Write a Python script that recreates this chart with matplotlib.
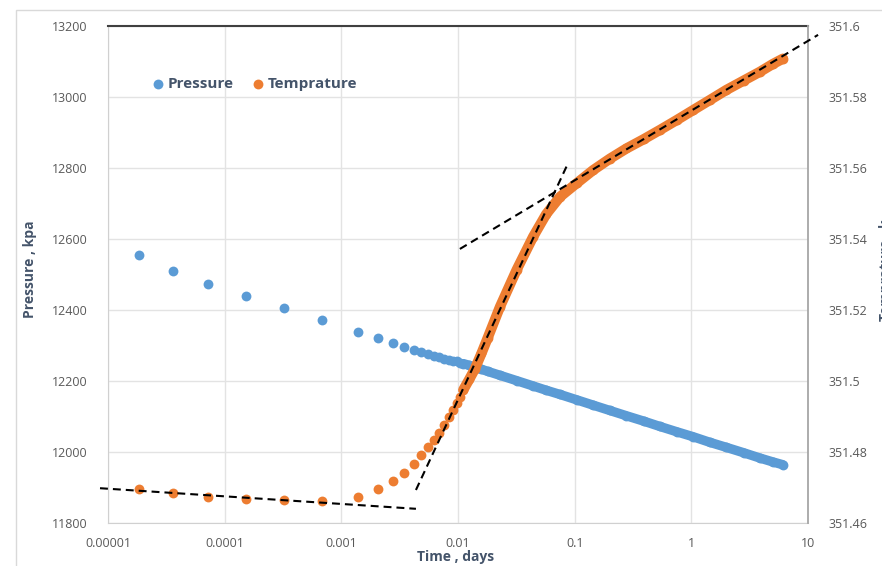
import matplotlib
matplotlib.use("Agg")
import matplotlib.pyplot as plt
from matplotlib.patches import Rectangle
from matplotlib.ticker import NullLocator

plt.rcParams['font.family'] = ['Open Sans', 'DejaVu Sans']

# -------------------------- data --------------------------
time_days = [1.85e-5, 3.6e-5, 7.2e-5, 1.52e-4, 3.2e-4, 6.8e-4,
             0.00139, 0.00208, 0.00278, 0.00347, 0.00417, 0.00486, 0.00556,
             0.00625, 0.00694, 0.00764, 0.00833, 0.00903, 0.00972, 0.01042,
             0.0111, 0.0125, 0.0139, 0.0159, 0.018, 0.0229, 0.0318, 0.044,
             0.057, 0.075, 0.104, 0.144, 0.2, 0.278, 0.39, 0.537, 0.75,
             1.036, 1.45, 2.0, 2.8, 3.87, 5.0, 6.1]

pressure = [12555, 12510, 12473, 12439, 12406, 12371,
            12339, 12320, 12306, 12295, 12287, 12281, 12276,
            12271, 12267, 12263, 12260, 12257, 12255, 12252,
            12249, 12244, 12239, 12233, 12227, 12216, 12201, 12186,
            12174, 12162, 12147, 12132, 12117, 12102, 12087, 12072, 12057,
            12043, 12027, 12013, 11998, 11983, 11972, 11964]

temperature = [351.4696, 351.4684, 351.4674, 351.4669, 351.4665, 351.4663,
               351.4672, 351.4695, 351.4718, 351.4742, 351.4766, 351.4791, 351.4813,
               351.4834, 351.4854, 351.4876, 351.4898, 351.4918, 351.4937, 351.4956,
               351.4975, 351.5005, 351.5033, 351.5078, 351.5122, 351.5209, 351.5313, 351.5406,
               351.5470, 351.5519, 351.5557, 351.5594, 351.5626, 351.5655, 351.5681, 351.5707, 351.5735,
               351.5763, 351.5792, 351.5820, 351.5846, 351.5871, 351.5893, 351.5908]

# points from here on overlap into a continuous band
dense_start = 20

# straight-line fits drawn on the temperature curve (time, temperature)
fit_early_t = [8.54e-6, 4.36e-3]
fit_early_T = [351.4698, 351.4640]
fit_mid_t = [4.36e-3, 0.0851]
fit_mid_T = [351.4693, 351.5604]
fit_late_t = [0.01038, 12.2]
fit_late_T = [351.5372, 351.5975]

x_ticks = [1e-5, 1e-4, 1e-3, 1e-2, 1e-1, 1, 10]
x_ticklabels = ['0.00001', '0.0001', '0.001', '0.01', '0.1', '1', '10']
p_ticks = [11800, 12000, 12200, 12400, 12600, 12800, 13000, 13200]
t_ticks = [351.46, 351.48, 351.5, 351.52, 351.54, 351.56, 351.58, 351.6]
t_ticklabels = ['351.46', '351.48', '351.5', '351.52', '351.54', '351.56', '351.58', '351.6']

# -------------------------- styles --------------------------
blue = '#5B9BD5'
orange = '#ED7D31'
tick_col = '#595959'
label_col = '#44546A'
grid_col = '#E3E3E3'
dot_s = 50

fig = plt.figure(figsize=(8.82, 5.66), dpi=100)
fig.patches.append(Rectangle((16 / 882, -0.01), 1.0, (566 - 10) / 566 + 0.01,
                             transform=fig.transFigure, fill=False,
                             edgecolor='#D9D9D9', linewidth=1.0))

ax = fig.add_axes([108 / 882, 43 / 566, 700 / 882, 497 / 566])
ax2 = ax.twinx()

# pressure
ax.scatter(time_days, pressure, s=dot_s, color=blue, linewidths=0, zorder=3)
ax.plot(time_days[dense_start:], pressure[dense_start:], color=blue,
        linewidth=6.8, solid_capstyle='round', zorder=3)

# temperature
ax2.scatter(time_days, temperature, s=dot_s, color=orange, linewidths=0, zorder=3)
ax2.plot(time_days[dense_start:], temperature[dense_start:], color=orange,
         linewidth=7.4, solid_capstyle='round', zorder=3)

# dashed fit lines
for tt, TT in [(fit_early_t, fit_early_T), (fit_mid_t, fit_mid_T), (fit_late_t, fit_late_T)]:
    ax2.plot(tt, TT, color='black', linewidth=1.5, linestyle=(0, (3.8, 2.4)),
             clip_on=False, zorder=5)

# axes
ax.set_xscale('log')
ax.set_xlim(1e-5, 10)
ax.set_ylim(11800, 13200)
ax2.set_ylim(351.46, 351.6)

ax.set_xticks(x_ticks, x_ticklabels)
ax.xaxis.set_minor_locator(NullLocator())
ax.set_yticks(p_ticks)
ax2.set_yticks(t_ticks, t_ticklabels)

ax.grid(True, color=grid_col, linewidth=1.0, zorder=0)
ax.set_axisbelow(True)

for a in (ax, ax2):
    a.tick_params(axis='both', length=0, labelsize=9, labelcolor=tick_col)
    for s in a.spines.values():
        s.set_visible(False)
ax.tick_params(axis='y', pad=15)
ax.tick_params(axis='x', pad=10)
ax2.tick_params(axis='y', pad=15)

ax.spines['top'].set_visible(True)
ax.spines['top'].set_color('#404040')
ax.spines['top'].set_linewidth(1.5)
ax.spines['left'].set_visible(True)
ax.spines['left'].set_color('#D0D0D0')
ax.spines['bottom'].set_visible(True)
ax.spines['bottom'].set_color('#D0D0D0')
ax2.spines['right'].set_visible(True)
ax2.spines['right'].set_color('#A6A6A6')
ax2.spines['right'].set_linewidth(1.3)

ax.set_ylabel('Pressure , kpa', fontsize=10, fontweight='bold', color=label_col)
ax.yaxis.set_label_coords(-0.101, 0.511)
ax.set_xlabel('Time , days', fontsize=10, fontweight='bold', color=label_col)
ax.xaxis.set_label_coords(0.497, -0.054)
ax2.set_ylabel('Temprature , k', fontsize=10, fontweight='bold', color=label_col,
               rotation=90)
ax2.yaxis.set_label_coords(1.102, 0.508)

# legend
hp = ax.scatter([], [], s=dot_s, color=blue, linewidths=0, label='Pressure')
ht = ax.scatter([], [], s=dot_s, color=orange, linewidths=0, label='Temprature')
leg = ax.legend(handles=[hp, ht], loc='center', bbox_to_anchor=(0.207, 0.883),
                ncol=2, frameon=False, fontsize=11, handletextpad=0.05,
                columnspacing=1.0, borderpad=0, handlelength=1.2)
for txt in leg.get_texts():
    txt.set_color(label_col)
    txt.set_fontweight('bold')

fig.savefig('out.png', dpi=100)
